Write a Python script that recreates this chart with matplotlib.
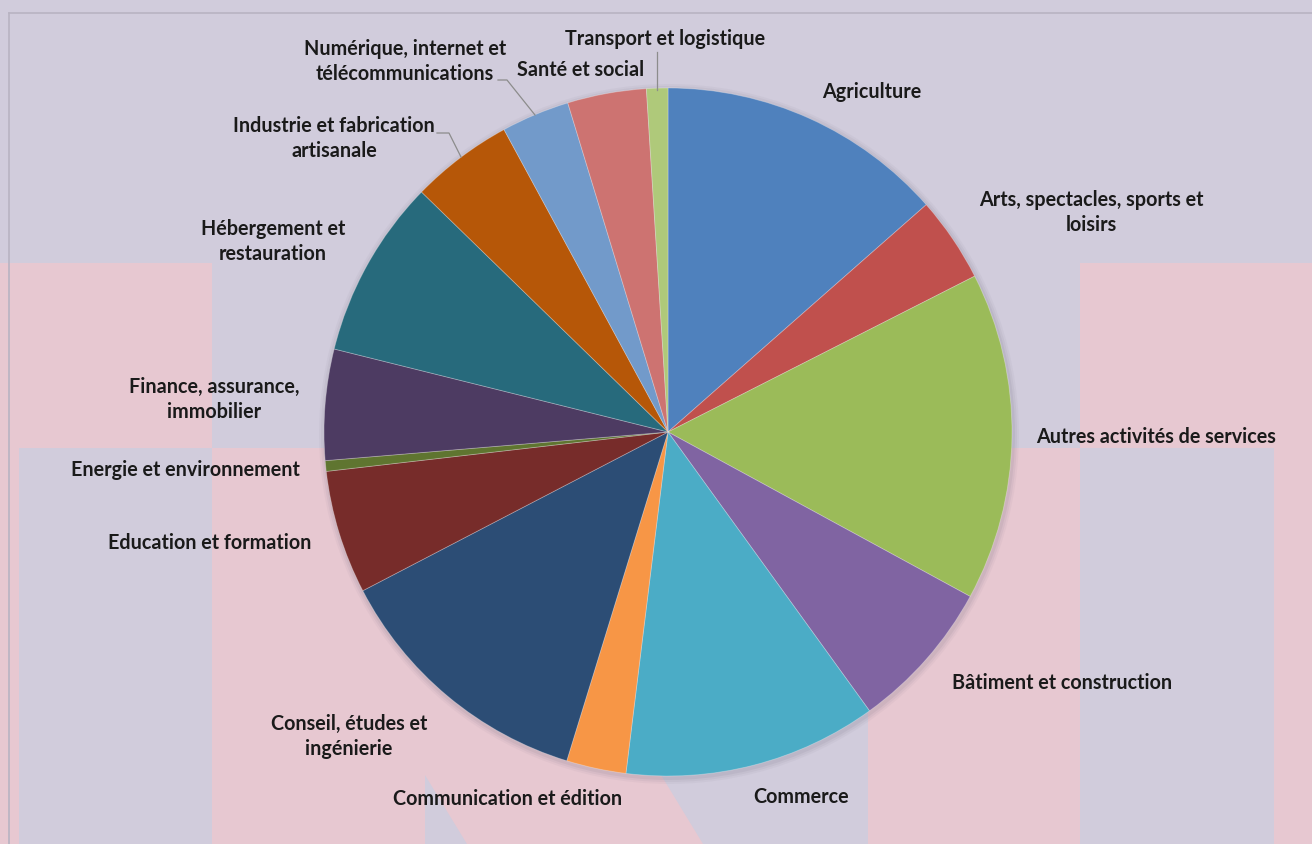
import matplotlib.pyplot as plt
from matplotlib.patches import Rectangle, Polygon, Circle

# data: share of each sector (in %)
sectors = ["Agriculture", "Arts, spectacles, sports et\nloisirs", "Autres activités de services",
           "Bâtiment et construction", "Commerce", "Communication et édition",
           "Conseil, études et\ningénierie", "Education et formation", "Energie et environnement",
           "Finance, assurance,\nimmobilier", "Hébergement et\nrestauration",
           "Industrie et fabrication\nartisanale", "Numérique, internet et\ntélécommunications",
           "Santé et social", "Transport et logistique"]
shares = [13.5, 4.0, 15.4, 7.1, 11.9, 2.8, 12.6, 5.8, 0.5, 5.2, 8.4, 4.8, 3.2, 3.7, 1.0]
colors = ["#4F81BD", "#C0504D", "#9BBB59", "#8064A2", "#4BACC6", "#F79646", "#2C4D75",
          "#772C2A", "#5F7530", "#4D3B62", "#276A7C", "#B65708", "#729ACA", "#CD7371", "#AFC97A"]

# label placement (pixels, center x / first line y)
label_pos = [(872, 92), (1091, 200), (1156, 437), (1062, 683), (801, 797), (508, 799),
             (349, 724), (210, 543), (185, 470), (214, 387), (273, 229), (334, 126),
             (405, 49), (581, 70), (665, 39)]

W, H = 1312, 844
lav = "#D1CCDC"
pink = "#E7C8D1"

fig = plt.figure(figsize=(W / 100, H / 100), dpi=100)
fig.patch.set_facecolor(lav)
ax = fig.add_axes([0, 0, 1, 1])
ax.set_facecolor(lav)

# background shapes
for x0, y0, w, h in [(0, 263, 212, 185), (1080, 263, 232, 185), (0, 448, 19, 396),
                     (212, 448, 213, 396), (868, 448, 212, 396), (1274, 448, 38, 396)]:
    ax.add_patch(Rectangle((x0, y0), w, h, color=pink, lw=0, zorder=0))
ax.add_patch(Polygon([(226, 448), (462, 448), (703, 844), (467, 844)], closed=True,
                     color=pink, lw=0, zorder=0))
ax.plot([9, W], [13, 13], color="#B8B3C2", lw=1.2, zorder=1)
ax.plot([9, 9], [13, H], color="#B8B3C2", lw=1.2, zorder=1)

# soft shadow under the pie
cx, cy, r = 668, 432, 344
for k, a in [(6, 0.05), (4, 0.07), (2, 0.09)]:
    ax.add_patch(Circle((cx + 1, cy + 2), r + k, color="#6A6478", alpha=a, lw=0, zorder=1))

ax.pie(shares, colors=colors, center=(cx, cy), radius=r, startangle=-90, counterclock=True,
       wedgeprops=dict(edgecolor=(1, 1, 1, 0.3), linewidth=0.6, zorder=2), frame=True)

for lab, (x, y) in zip(sectors, label_pos):
    for i, line in enumerate(lab.split("\n")):
        ax.text(x, y + i * 25, line, ha="center", va="center", fontsize=14.2,
                fontweight="bold", family="Lato", color="#1A1A1A", zorder=4)

# leader lines
ax.plot([657, 657], [52, 90], color="#8C8C8C", lw=0.9, zorder=3)
ax.plot([498, 507, 535], [80, 80, 115], color="#8C8C8C", lw=0.9, zorder=3)
ax.plot([437, 449, 461], [133, 133, 157], color="#8C8C8C", lw=0.9, zorder=3)

ax.set_xlim(0, W)
ax.set_ylim(H, 0)
ax.set_aspect("auto")
ax.axis("off")

fig.savefig("out.png", dpi=100, facecolor=fig.get_facecolor())
